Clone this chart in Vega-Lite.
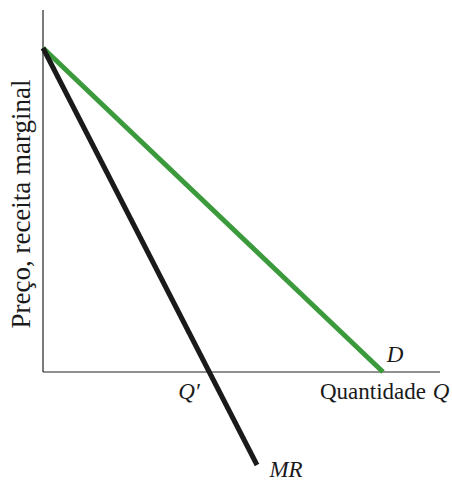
{
  "$schema": "https://vega.github.io/schema/vega-lite/v6.json",
  "width": 452,
  "height": 481,
  "autosize": "none",
  "padding": 0,
  "background": "white",
  "config": {"view": {"stroke": null}},
  "datasets": {
    "axes": [
      {"x": 0, "y": 0, "x2": 0, "y2": 362},
      {"x": 0, "y": 0, "x2": 397, "y2": 0}
    ],
    "curves": [
      {"series": "D", "q": 0, "p": 324},
      {"series": "D", "q": 340, "p": 0},
      {"series": "MR", "q": 0, "p": 324},
      {"series": "MR", "q": 214, "p": -93}
    ],
    "italicLabels": [
      {"label": "D", "x": 352, "y": 17},
      {"label": "Q′", "x": 146, "y": -20},
      {"label": "Q", "x": 398, "y": -20},
      {"label": "MR", "x": 243, "y": -98}
    ],
    "plainLabels": [
      {"label": "Quantidade", "x": 383, "y": -20}
    ],
    "yTitle": [
      {"label": "Preço, receita marginal", "x": -21, "y": 168}
    ]
  },
  "layer": [
    {
      "data": {"name": "axes"},
      "mark": {"type": "rule", "color": "#222222", "strokeWidth": 1.2},
      "encoding": {
        "x": {"field": "x", "type": "quantitative", "scale": {"domain": [-43, 409], "nice": false, "zero": false}, "axis": null},
        "y": {"field": "y", "type": "quantitative", "scale": {"domain": [-109, 372], "nice": false, "zero": false}, "axis": null},
        "x2": {"field": "x2"},
        "y2": {"field": "y2"}
      }
    },
    {
      "data": {"name": "curves"},
      "mark": {"type": "line", "strokeWidth": 5, "strokeCap": "butt"},
      "encoding": {
        "x": {"field": "q", "type": "quantitative", "scale": {"domain": [-43, 409], "nice": false, "zero": false}, "axis": null},
        "y": {"field": "p", "type": "quantitative", "scale": {"domain": [-109, 372], "nice": false, "zero": false}, "axis": null},
        "color": {"field": "series", "type": "nominal", "scale": {"domain": ["D", "MR"], "range": ["#3b9a3b", "#1a1a1a"]}, "legend": null}
      }
    },
    {
      "data": {"name": "italicLabels"},
      "mark": {"type": "text", "font": "Liberation Serif", "fontSize": 23, "fontStyle": "italic", "align": "center", "baseline": "middle", "color": "#1a1a1a"},
      "encoding": {
        "x": {"field": "x", "type": "quantitative", "scale": {"domain": [-43, 409], "nice": false, "zero": false}, "axis": null},
        "y": {"field": "y", "type": "quantitative", "scale": {"domain": [-109, 372], "nice": false, "zero": false}, "axis": null},
        "text": {"field": "label"}
      }
    },
    {
      "data": {"name": "plainLabels"},
      "mark": {"type": "text", "font": "Liberation Serif", "fontSize": 23, "align": "right", "baseline": "middle", "color": "#1a1a1a"},
      "encoding": {
        "x": {"field": "x", "type": "quantitative", "scale": {"domain": [-43, 409], "nice": false, "zero": false}, "axis": null},
        "y": {"field": "y", "type": "quantitative", "scale": {"domain": [-109, 372], "nice": false, "zero": false}, "axis": null},
        "text": {"field": "label"}
      }
    },
    {
      "data": {"name": "yTitle"},
      "mark": {"type": "text", "font": "Liberation Serif", "fontSize": 27, "angle": 270, "align": "center", "baseline": "middle", "color": "#1a1a1a"},
      "encoding": {
        "x": {"field": "x", "type": "quantitative", "scale": {"domain": [-43, 409], "nice": false, "zero": false}, "axis": null},
        "y": {"field": "y", "type": "quantitative", "scale": {"domain": [-109, 372], "nice": false, "zero": false}, "axis": null},
        "text": {"field": "label"}
      }
    }
  ]
}
